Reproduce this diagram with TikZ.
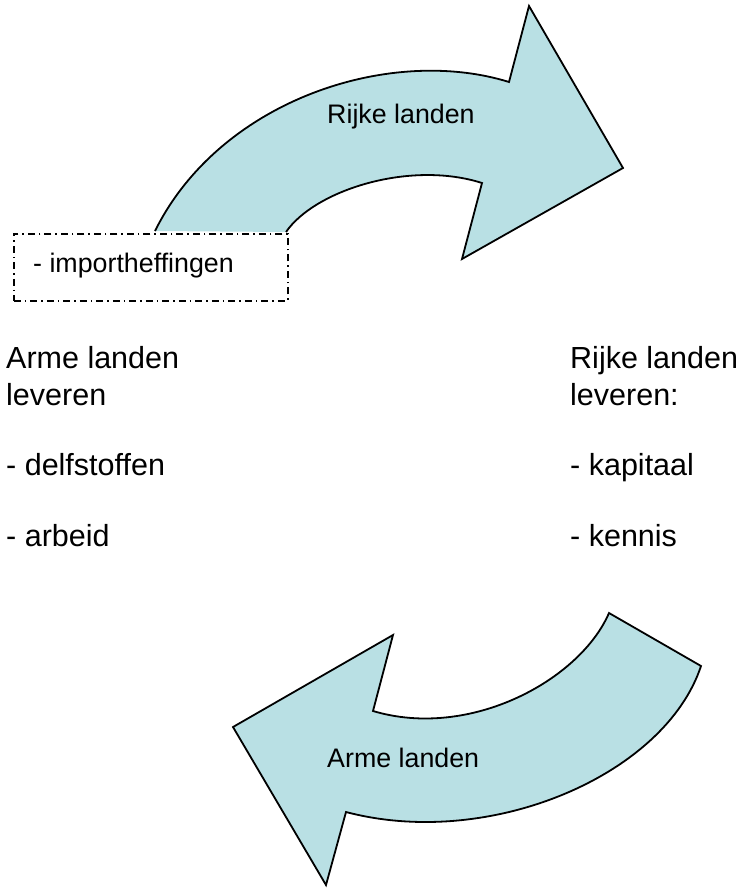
\documentclass[tikz,border=0pt]{standalone}
\usepackage{fontspec}
\setmainfont{Liberation Sans}
\definecolor{arrowfill}{RGB}{185,224,228}
\tikzset{
  arrowshape/.style={fill=arrowfill},
  arrowline/.style={draw=black, line width=1.8pt, line join=miter},
  sidetext/.style={anchor=base west, inner sep=0pt, font=\fontsize{30.5}{36}\selectfont},
  labeltext/.style={anchor=base west, inner sep=0pt, font=\fontsize{26.8}{32}\selectfont},
  dashbox/.style={draw=black, line width=1.7pt, dash pattern=on 7pt off 4pt on 1.5pt off 4pt}
}
\begin{document}
\begin{tikzpicture}[x=1pt,y=-1pt]
\useasboundingbox (0,0) rectangle (738,888);
% top arrow (Rijke landen)
\coordinate (ta) at (155,231);
\coordinate (tb) at (509,82);
\coordinate (tc) at (529,6);
\coordinate (td) at (623,168);
\coordinate (te) at (462,259);
\coordinate (tf) at (482,183);
\coordinate (tg) at (286,232);
\fill[arrowshape] (ta) .. controls (220,100) and (390,45) .. (tb) -- (tc) -- (td) -- (te) -- (tf)
  .. controls (410,160) and (315,190) .. (tg) -- cycle;
\draw[arrowline] (ta) .. controls (220,100) and (390,45) .. (tb) -- (tc) -- (td) -- (te) -- (tf)
  .. controls (410,160) and (315,190) .. (tg);
% bottom arrow (Arme landen)
\coordinate (ba) at (609,613);
\coordinate (bb) at (701,666);
\coordinate (bc) at (346,812);
\coordinate (bd) at (326,885);
\coordinate (be) at (233,727);
\coordinate (bf) at (393,635);
\coordinate (bg) at (373,711);
\filldraw[arrowshape, arrowline] (ba) -- (bb) .. controls (665,775) and (490,850) .. (bc) -- (bd) -- (be) -- (bf) -- (bg)
  .. controls (470,740) and (580,680) .. (ba) -- cycle;
% dashed box
\node[dashbox, minimum width=274pt, minimum height=67pt, anchor=north west, inner sep=0pt] (box) at (13,233) {};
\node[labeltext] (imp) at (33,272) {- importheffingen};
% labels in arrows
\node[labeltext] (rl) at (327,124) {Rijke landen};
\node[labeltext] (al) at (327,767) {Arme landen};
% left column
\node[sidetext] (l1) at (6,368) {Arme landen};
\node[sidetext] (l2) at (6,405) {leveren};
\node[sidetext] (l3) at (6,475) {- delfstoffen};
\node[sidetext] (l4) at (6,546) {- arbeid};
% right column
\node[sidetext] (r1) at (570,368) {Rijke landen};
\node[sidetext] (r2) at (570,405) {leveren:};
\node[sidetext] (r3) at (570,475) {- kapitaal};
\node[sidetext] (r4) at (570,546) {- kennis};
\end{tikzpicture}
\end{document}
